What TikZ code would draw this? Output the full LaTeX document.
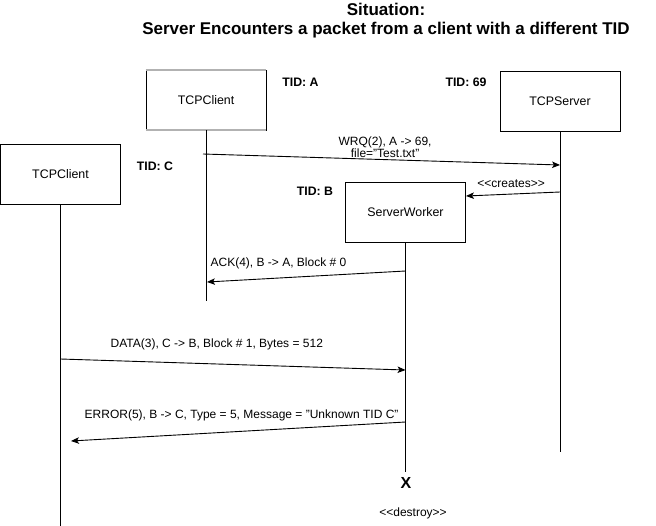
\documentclass[tikz,border=0pt]{standalone}
\usepackage{fontspec}
\setmainfont{Liberation Sans}
\usetikzlibrary{arrows.meta}

\begin{document}
\begin{tikzpicture}[x=1pt,y=1pt]
	\tikzstyle{every node}+=[inner sep=0pt]
	\tikzstyle{actor}=[draw=black, line width=0.9pt, minimum width=120pt, minimum height=60pt, font=\fontsize{12.4}{14}\selectfont]
	\tikzstyle{life}=[black, line width=0.9pt]
	\tikzstyle{msg}=[black, line width=0.9pt, -{Stealth[length=8pt,width=6.5pt,inset=2pt]}]
	\tikzstyle{lbl}=[font=\fontsize{12}{12.5}\selectfont, align=center]
	\tikzstyle{tid}=[font=\fontsize{12.3}{13}\selectfont\bfseries]
	\useasboundingbox (0,0) rectangle (656,-525);
	% title
	\node [align=center, font=\fontsize{17}{19}\selectfont\bfseries] (title) at (386,-20.5) {Situation:\\Server Encounters a packet from a client with a different TID};
	% actors
	\node [actor] (clientA) at (206,-100) {TCPClient};
	\draw [gray!60, line width=2pt] (clientA.north west) -- (clientA.north east);
	\draw [gray!60, line width=2pt] (clientA.south west) -- (clientA.south east);
	\node [actor] (server) at (560,-101) {TCPServer};
	\node [actor] (clientC) at (60.5,-174) {TCPClient};
	\node [actor] (worker) at (405.5,-212) {ServerWorker};
	\node [tid] (tidA) at (300.5,-82) {TID: A};
	\node [tid] (tid69) at (466,-82) {TID: 69};
	\node [tid] (tidC) at (155,-166) {TID: C};
	\node [tid] (tidB) at (315,-191) {TID: B};
	% lifelines
	\coordinate (clientAend) at (206,-301);
	\coordinate (serverEnd) at (560,-452);
	\coordinate (clientCend) at (60.5,-526);
	\coordinate (workerEnd) at (405.5,-472);
	\draw [life] (clientA) -- (clientAend);
	\draw [life] (server) -- (serverEnd);
	\draw [life] (clientC) -- (clientCend);
	\draw [life] (worker) -- (workerEnd);
	\node [font=\fontsize{16}{18}\selectfont\bfseries] (kill) at (406,-483) {X};
	\node [lbl] (destroy) at (413,-513) {{<}{<}destroy{>}{>}};
	% messages
	\coordinate (wrqS) at (203,-154);
	\coordinate (wrqE) at (560,-165);
	\draw [msg] (wrqS) -- (wrqE) node [lbl, pos=0.51, above=1.5pt] {WRQ(2), A -> 69,\\file="Test.txt"};
	\coordinate (crS) at (560,-192);
	\coordinate (crE) at (466,-196);
	\draw [msg] (crS) -- (crE) node [lbl, pos=0.52, above=6pt] {{<}{<}creates{>}{>}};
	\coordinate (ackS) at (405.5,-271);
	\coordinate (ackE) at (207,-282);
	\draw [msg] (ackS) -- (ackE) node [lbl, pos=0.64, above=9pt] {ACK(4), B -> A, Block \# 0};
	\coordinate (dataS) at (60.5,-359);
	\coordinate (dataE) at (405.5,-370);
	\draw [msg] (dataS) -- (dataE) node [lbl, pos=0.453, above=14pt] {DATA(3), C -> B, Block \# 1, Bytes = 512};
	\coordinate (errS) at (405.5,-422);
	\coordinate (errE) at (71,-441);
	\draw [msg] (errS) -- (errE) node [lbl, pos=0.49, above=9.5pt] {ERROR(5), B -> C, Type = 5, Message = "Unknown TID C"};
\end{tikzpicture}
\end{document}
